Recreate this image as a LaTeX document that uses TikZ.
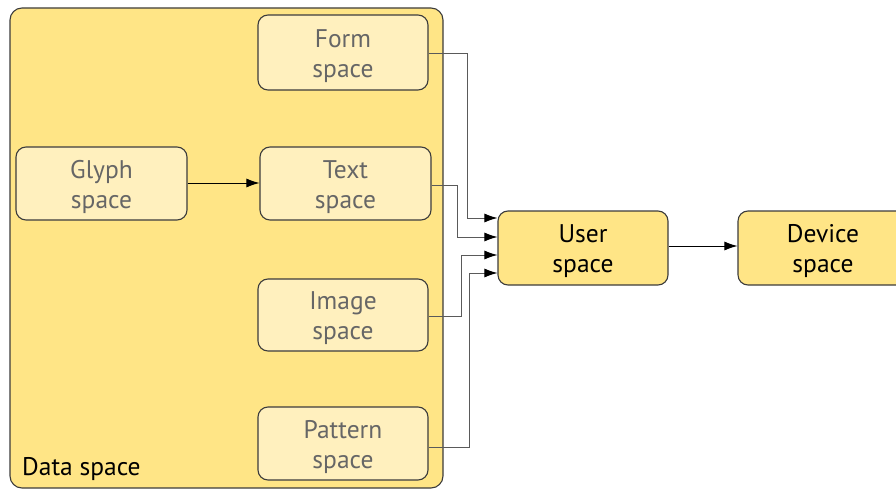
\documentclass[tikz,border=0pt]{standalone}
\usepackage{fontspec}
\setmainfont{PT Sans}
\usetikzlibrary{arrows.meta}
\definecolor{outerfill}{HTML}{FFE586}
\definecolor{innerfill}{HTML}{FFF0BE}
\definecolor{edgegray}{HTML}{3C3C3C}
\definecolor{labelgray}{HTML}{666666}
\definecolor{wiregray}{HTML}{5A5A5A}
% extra height on the first line pushes the two-line labels a little lower
\newcommand{\toppad}{\rule{0pt}{25pt}}
\tikzset{
  spacebox/.style={draw=edgegray, line width=1.1pt, rounded corners=10pt,
    align=center, font=\fontsize{25.5}{30}\selectfont, inner sep=0pt},
  innerbox/.style={spacebox, fill=innerfill, text=labelgray},
  outerbox/.style={spacebox, fill=outerfill, text=black},
  tip/.style={-{Latex[length=13pt,width=9pt,color=black]}},
  wire/.style={draw=wiregray, line width=0.9pt, tip},
  mainwire/.style={draw=black, line width=0.9pt, tip},
}
\begin{document}
\begin{tikzpicture}[x=1pt,y=-1pt]
\useasboundingbox (0,0) rectangle (896,489);
% enclosing data space region
\draw[draw=edgegray, line width=1.1pt, fill=outerfill, rounded corners=12pt] (10,8) rectangle (443,488);
\node[anchor=base west, inner sep=0pt, font=\fontsize{25.5}{30}\selectfont] (dlabel) at (22,475) {Data space};
% boxes
\node[innerbox, minimum width=170pt, minimum height=75pt] (form) at (343,52.5) {\toppad Form\\space};
\node[innerbox, minimum width=171pt, minimum height=73pt] (glyph) at (101.5,183.5) {\toppad Glyph\\space};
\node[innerbox, minimum width=171pt, minimum height=73pt] (text) at (345.5,183.5) {\toppad Text\\space};
\node[innerbox, minimum width=170pt, minimum height=72pt] (image) at (343,315) {\toppad Image\\space};
\node[innerbox, minimum width=170pt, minimum height=73pt] (pattern) at (343,443.5) {\toppad Pattern\\space};
\node[outerbox, minimum width=170pt, minimum height=74pt] (user) at (583,248) {\toppad User\\space};
\node[outerbox, minimum width=170pt, minimum height=74pt] (device) at (823,248) {\toppad Device\\space};
% connectors
\draw[mainwire] (glyph.east |- 0,183) -- (text.west |- 0,183);
\draw[mainwire] (user.east |- 0,246) -- (device.west |- 0,246);
\draw[wire] (form.east |- 0,53) -| (467,218) -- (user.west |- 0,218);
\draw[wire] (text.east |- 0,185) -| (457,237) -- (user.west |- 0,237);
\draw[wire] (image.east |- 0,316) -| (461,255) -- (user.west |- 0,255);
\draw[wire] (pattern.east |- 0,447) -| (469,273) -- (user.west |- 0,273);
\end{tikzpicture}
\end{document}
